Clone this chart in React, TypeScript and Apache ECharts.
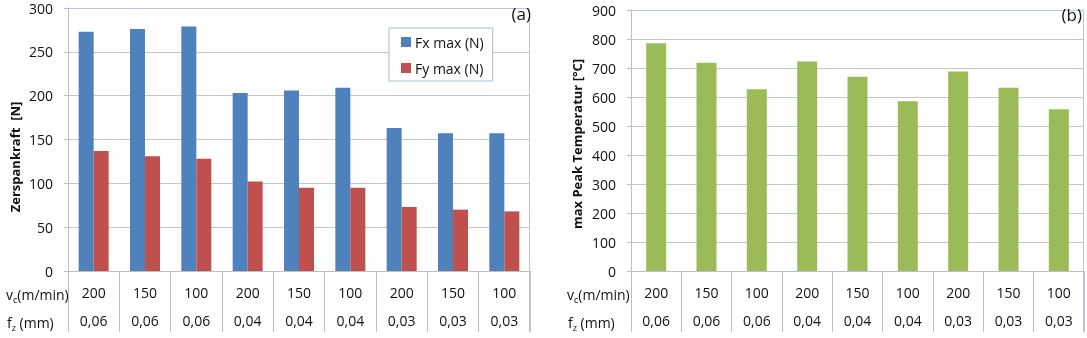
import React, { useEffect, useRef } from "react";
import * as echarts from "echarts";

const vcLabels = ["200", "150", "100", "200", "150", "100", "200", "150", "100"];
const fzLabels = ["0,06", "0,06", "0,06", "0,04", "0,04", "0,04", "0,03", "0,03", "0,03"];
const fxMax = [273, 276, 279, 203, 206, 209, 163, 157, 157];
const fyMax = [137, 131, 128, 102, 95, 95, 73, 70, 68];
const peakTemp = [785, 718, 627, 722, 670, 585, 688, 632, 558];

const FONT = "Open Sans";
const GRID_COLOR = "#c6c6c6";
const SEP_COLOR = "#bfbfbf";
const BORDER_COLOR = "#b4c8e4";

export default function App() {
  const ref = useRef<HTMLDivElement>(null);
  useEffect(() => {
    document.body.style.margin = "0";
    const chart = echarts.init(ref.current!, null, { renderer: "svg" });

    const mkX = (gridIndex: number) => [
      {
        type: "category",
        gridIndex,
        data: vcLabels,
        position: "bottom",
        axisLine: { show: true, lineStyle: { color: SEP_COLOR, width: 1 } },
        axisTick: { show: true, interval: 0, length: 61, lineStyle: { color: SEP_COLOR } },
        axisLabel: { interval: 0, margin: 14, fontFamily: FONT, fontSize: 14, color: "#111" },
      },
      {
        type: "category",
        gridIndex,
        data: fzLabels,
        position: "bottom",
        axisLine: { show: false },
        axisTick: { show: false },
        axisLabel: { interval: 0, margin: 42, fontFamily: FONT, fontSize: 14, color: "#111" },
      },
    ];
    const mkY = (gridIndex: number, max: number, interval: number) => ({
      type: "value",
      gridIndex,
      min: 0,
      max,
      interval,
      axisLine: { show: true, lineStyle: { color: SEP_COLOR } },
      axisTick: { show: true, length: 4, lineStyle: { color: SEP_COLOR } },
      axisLabel: { margin: 15, fontFamily: FONT, fontSize: 14, color: "#111" },
      splitLine: { show: true, lineStyle: { color: GRID_COLOR, width: 1 } },
    });

    const rowLabel = (x: number, y: number, main: string, sub: string, rest: string) => ({
      type: "text",
      x,
      y,
      style: {
        text: `{m|${main}}{s|${sub}}{m|${rest}}`,
        textVerticalAlign: "middle",
        verticalAlign: "middle",
        rich: {
          m: { fontFamily: FONT, fontSize: 14, fill: "#111", lineHeight: 19 },
          s: { fontFamily: FONT, fontSize: 9, fill: "#111", lineHeight: 9, verticalAlign: "bottom" },
        },
      },
    });

    chart.setOption({
      animation: false,
      grid: [
        { left: 68, top: 8, width: 462, height: 263 },
        { left: 631, top: 10, width: 453, height: 261 },
      ],
      xAxis: [...mkX(0), ...mkX(1)],
      yAxis: [mkY(0, 300, 50), mkY(1, 900, 100)],
      legend: {
        data: ["Fx max (N)", "Fy max (N)"],
        orient: "vertical",
        left: 389,
        top: 28,
        padding: [7, 9, 6, 12],
        itemWidth: 10,
        itemHeight: 10,
        itemGap: 12,
        icon: "rect",
        backgroundColor: "#ffffff",
        borderColor: "#a7b9d4",
        borderWidth: 1,
        borderRadius: 0,
        textStyle: { fontFamily: FONT, fontSize: 14, color: "#111", padding: [0, 0, 0, -1] },
      },
      series: [
        {
          name: "Fx max (N)",
          type: "bar",
          xAxisIndex: 0,
          yAxisIndex: 0,
          data: fxMax,
          barWidth: 15,
          barGap: "0%",
          itemStyle: { color: "#4f81bd" },
        },
        {
          name: "Fy max (N)",
          type: "bar",
          xAxisIndex: 0,
          yAxisIndex: 0,
          data: fyMax,
          barWidth: 15,
          barGap: "0%",
          itemStyle: { color: "#c0504d" },
        },
        {
          name: "max Peak Temperatur",
          type: "bar",
          xAxisIndex: 2,
          yAxisIndex: 1,
          data: peakTemp,
          barWidth: 20,
          itemStyle: { color: "#9bbb59" },
        },
      ],
      graphic: [
        { type: "line", shape: { x1: 68, y1: 8.5, x2: 530, y2: 8.5 }, style: { stroke: BORDER_COLOR, lineWidth: 1 }, z: 10 },
        { type: "line", shape: { x1: 529.5, y1: 8, x2: 529.5, y2: 332 }, style: { stroke: BORDER_COLOR, lineWidth: 1 }, z: 10 },
        { type: "line", shape: { x1: 631, y1: 10.5, x2: 1084, y2: 10.5 }, style: { stroke: BORDER_COLOR, lineWidth: 1 }, z: 10 },
        { type: "line", shape: { x1: 1083.5, y1: 10, x2: 1083.5, y2: 332 }, style: { stroke: BORDER_COLOR, lineWidth: 1 }, z: 10 },
        {
          type: "text",
          x: 531,
          y: 13,
          z: 11,
          style: { text: "(a)", fontFamily: FONT, fontSize: 17, fill: "#111", textAlign: "right", textVerticalAlign: "middle" },
        },
        {
          type: "text",
          x: 1082,
          y: 14,
          z: 11,
          style: { text: "(b)", fontFamily: FONT, fontSize: 17, fill: "#111", textAlign: "right", textVerticalAlign: "middle" },
        },
        {
          type: "text",
          x: 15,
          y: 157,
          rotation: Math.PI / 2,
          style: { text: "Zerspankraft  [N]", fontFamily: FONT, fontSize: 13, fontWeight: "bold", fill: "#111", textAlign: "center", textVerticalAlign: "middle" },
        },
        {
          type: "text",
          x: 577,
          y: 144,
          rotation: Math.PI / 2,
          style: { text: "max Peak Temperatur [°C]", fontFamily: FONT, fontSize: 13, fontWeight: "bold", fill: "#111", textAlign: "center", textVerticalAlign: "middle" },
        },
        rowLabel(6, 294, "v", "c", "(m/min)"),
        rowLabel(7, 322, "f", "z", " (mm)"),
        rowLabel(567, 294, "v", "c", "(m/min)"),
        rowLabel(568, 322, "f", "z", " (mm)"),
      ],
    });
    return () => chart.dispose();
  }, []);
  return <div ref={ref} style={{ position: "fixed", left: 0, top: 0, width: 1087, height: 338 }} />;
}
